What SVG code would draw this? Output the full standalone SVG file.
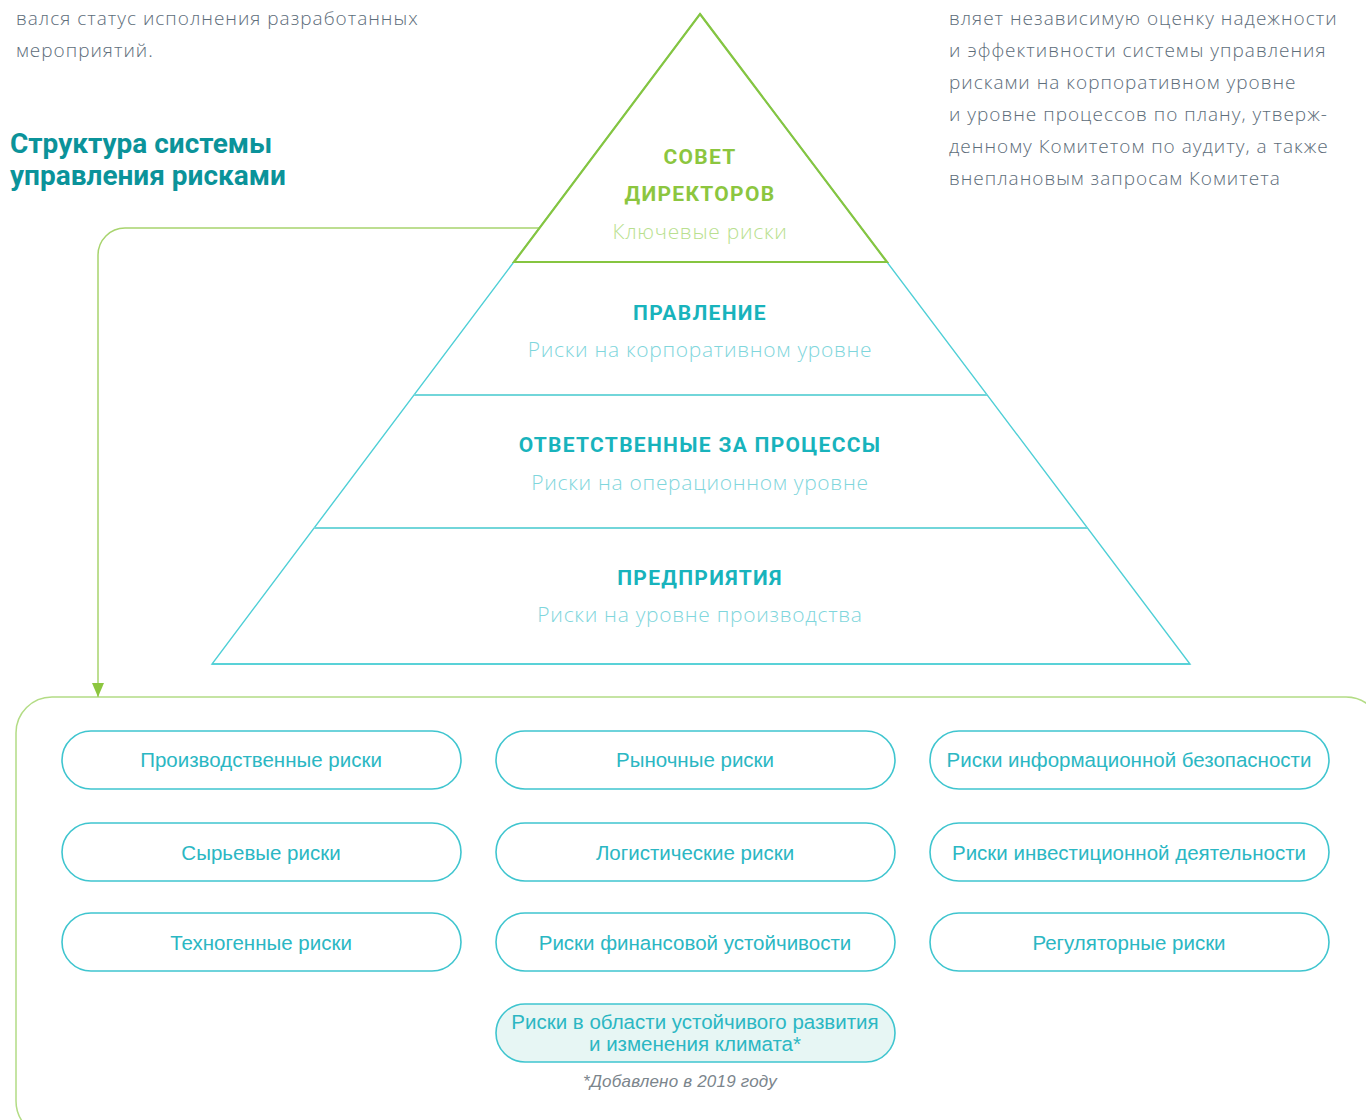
<svg xmlns="http://www.w3.org/2000/svg" width="1366" height="1120" viewBox="0 0 1366 1120">
<style>
.para{font-family:"Open Sans","Liberation Sans",sans-serif;font-weight:300;font-size:19px;letter-spacing:1px;fill:#5d6d7a}
.title{font-family:Roboto,"Liberation Sans",sans-serif;font-weight:700;font-size:28px;fill:#0b939a}
.lvl{font-family:Roboto,"Liberation Sans",sans-serif;font-weight:700;font-size:21px;letter-spacing:1.3px;text-anchor:middle;fill:#18b3bc}
.sub{font-family:"Open Sans","Liberation Sans",sans-serif;font-weight:300;font-size:21px;letter-spacing:0.7px;text-anchor:middle;fill:#7fd6dc}
.g{fill:#8cc63f}
.gs{fill:#b9df8f}
.pill rect{fill:#fff;stroke:#3fc5cf;stroke-width:1.6}
.pill text{font-family:"Liberation Sans",Arial,sans-serif;font-size:20.5px;fill:#2bb7c3;text-anchor:middle}
.pill.hl rect{fill:#e7f6f4}
.note{font-family:"Liberation Sans",Arial,sans-serif;font-style:italic;font-size:17px;letter-spacing:0.2px;fill:#7b858c;text-anchor:middle}
</style>
<defs>
<marker id="arr" markerWidth="14" markerHeight="12" refX="14" refY="6" orient="auto" markerUnits="userSpaceOnUse" viewBox="0 0 14 12">
<path d="M0,0 L14,6 L0,12 Z" fill="#8cc63f"/>
</marker>
</defs>
<rect width="1366" height="1120" fill="#fff"/>
<g id="text-left">
<text class="para" x="16" y="25">вался статус исполнения разработанных</text>
<text class="para" x="16" y="57">мероприятий.</text>
</g>
<g id="text-right">
<text class="para" x="949" y="25">вляет независимую оценку надежности</text>
<text class="para" x="949" y="57">и эффективности системы управления</text>
<text class="para" x="949" y="89">рисками на корпоративном уровне</text>
<text class="para" x="949" y="121">и уровне процессов по плану, утверж-</text>
<text class="para" x="949" y="153">денному Комитетом по аудиту, а также</text>
<text class="para" x="949" y="185">внеплановым запросам Комитета</text>
</g>
<g id="title">
<text class="title" x="10" y="153">Структура системы</text>
<text class="title" x="10" y="185">управления рисками</text>
</g>
<g id="container">
<rect x="16" y="697" width="1366" height="440" rx="36" fill="none" stroke="#b3dc85" stroke-width="1.5"/>
</g>
<g id="connectors">
<path d="M539,228 H125 A27,27 0 0 0 98,255 V697" fill="none" stroke="#a8d46e" stroke-width="1.5" marker-end="url(#arr)"/>
</g>
<g id="pyramid">
<path d="M700,14 L1190,664 L212,664 Z" fill="none" stroke="#4fcfd6" stroke-width="1.4"/>
<line x1="414" y1="395" x2="987" y2="395" stroke="#72d6da" stroke-width="2"/>
<line x1="314" y1="528" x2="1087" y2="528" stroke="#72d6da" stroke-width="2"/>
<line x1="212" y1="664" x2="1190" y2="664" stroke="#4fcfd6" stroke-width="1.6"/>
<path d="M700,14 L887,262 L514,262 Z" fill="none" stroke="#86c540" stroke-width="2.2" stroke-linejoin="miter"/>
</g>
<g id="level-board">
<text class="lvl g" x="700" y="164">СОВЕТ</text>
<text class="lvl g" x="700" y="201">ДИРЕКТОРОВ</text>
<text class="sub gs" x="700" y="239">Ключевые риски</text>
</g>
<g id="level-management">
<text class="lvl" x="700" y="320">ПРАВЛЕНИЕ</text>
<text class="sub" x="700" y="357">Риски на корпоративном уровне</text>
</g>
<g id="level-process">
<text class="lvl" x="700" y="452">ОТВЕТСТВЕННЫЕ ЗА ПРОЦЕССЫ</text>
<text class="sub" x="700" y="490">Риски на операционном уровне</text>
</g>
<g id="level-enterprise">
<text class="lvl" x="700" y="585">ПРЕДПРИЯТИЯ</text>
<text class="sub" x="700" y="622">Риски на уровне производства</text>
</g>
<g id="risk-production" class="pill"><rect x="62" y="731" width="399" height="58" rx="29"/><text x="261" y="767">Производственные риски</text></g>
<g id="risk-market" class="pill"><rect x="496" y="731" width="399" height="58" rx="29"/><text x="695" y="767">Рыночные риски</text></g>
<g id="risk-infosec" class="pill"><rect x="930" y="731" width="399" height="58" rx="29"/><text x="1129" y="767">Риски информационной безопасности</text></g>
<g id="risk-raw" class="pill"><rect x="62" y="823" width="399" height="58" rx="29"/><text x="261" y="860">Сырьевые риски</text></g>
<g id="risk-logistics" class="pill"><rect x="496" y="823" width="399" height="58" rx="29"/><text x="695" y="860">Логистические риски</text></g>
<g id="risk-investment" class="pill"><rect x="930" y="823" width="399" height="58" rx="29"/><text x="1129" y="860">Риски инвестиционной деятельности</text></g>
<g id="risk-technogenic" class="pill"><rect x="62" y="913" width="399" height="58" rx="29"/><text x="261" y="950">Техногенные риски</text></g>
<g id="risk-financial" class="pill"><rect x="496" y="913" width="399" height="58" rx="29"/><text x="695" y="950">Риски финансовой устойчивости</text></g>
<g id="risk-regulatory" class="pill"><rect x="930" y="913" width="399" height="58" rx="29"/><text x="1129" y="950">Регуляторные риски</text></g>
<g id="risk-climate" class="pill hl"><rect x="496" y="1004" width="399" height="58" rx="29"/><text x="695" y="1029">Риски в области устойчивого развития</text><text x="695" y="1051">и изменения климата*</text></g>
<g id="footnote"><text class="note" x="680" y="1087">*Добавлено в 2019 году</text></g>
</svg>
